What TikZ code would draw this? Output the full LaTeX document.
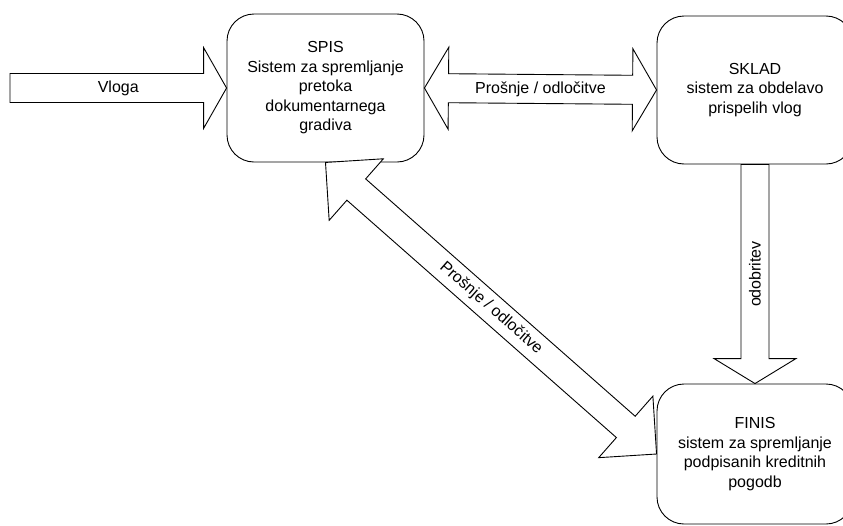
\documentclass[tikz,border=0pt]{standalone}
\usepackage{fontspec}
\setmainfont{Liberation Sans}
\usetikzlibrary{calc}

% Block arrow with one head: #1 name, #2 tail, #3 tip,
% #4 shaft half width, #5 head half width, #6 head length
\newcommand\onewayarrow[6]{%
  \coordinate (#1-b) at ($(#3)!#6!(#2)$);
  \draw[blockarrow]
    ($(#2)!#4!90:(#3)$) -- ($(#1-b)!#4!-90:(#2)$) -- ($(#1-b)!#5!-90:(#2)$)
    -- (#3)
    -- ($(#1-b)!#5!90:(#2)$) -- ($(#1-b)!#4!90:(#2)$) -- ($(#2)!#4!-90:(#3)$)
    -- cycle;}

% Block arrow with heads at both ends: #1 name, #2 and #3 tips,
% #4 shaft half width, #5 head half width, #6 head length
\newcommand\twowayarrow[6]{%
  \coordinate (#1-a) at ($(#2)!#6!(#3)$);
  \coordinate (#1-b) at ($(#3)!#6!(#2)$);
  \draw[blockarrow]
    (#2) -- ($(#1-a)!#5!90:(#3)$) -- ($(#1-a)!#4!90:(#3)$)
    -- ($(#1-b)!#4!-90:(#2)$) -- ($(#1-b)!#5!-90:(#2)$)
    -- (#3)
    -- ($(#1-b)!#5!90:(#2)$) -- ($(#1-b)!#4!90:(#2)$)
    -- ($(#1-a)!#4!-90:(#3)$) -- ($(#1-a)!#5!-90:(#3)$)
    -- cycle;}

\tikzset{
  sysbox/.style={draw, line width=0.9pt, rounded corners=27pt, fill=white,
    align=center, inner sep=0pt, font=\fontsize{16}{19.5}\selectfont},
  blockarrow/.style={draw, line width=0.9pt, fill=white, line join=miter},
  lbl/.style={font=\fontsize{16}{19.5}\selectfont, inner sep=0pt}
}

\begin{document}
\begin{tikzpicture}[x=1pt, y={(0pt,-1pt)}]
  \useasboundingbox (0,0) rectangle (843,525);

  % systems
  \node[sysbox, minimum width=197pt, minimum height=148pt] (spis) at (325.5,88)
    {SPIS\\Sistem za spremljanje\\pretoka\\dokumentarnega\\gradiva};
  \node[sysbox, minimum width=196pt, minimum height=148pt] (sklad) at (755,90)
    {SKLAD\\sistem za obdelavo\\prispelih vlog};
  \node[sysbox, minimum width=196pt, minimum height=140pt] (finis) at (755,454)
    {FINIS\\sistem za spremljanje\\podpisanih kreditnih\\pogodb};

  % incoming request
  \coordinate (vloga-in) at (10,88);
  \onewayarrow{vl}{vloga-in}{spis.west}{14.5pt}{40.5pt}{23pt}
  \path (vloga-in) -- (spis.west) node[lbl, midway] (vlogalbl) {Vloga};

  % SPIS <-> SKLAD
  \twowayarrow{ps}{spis.east}{sklad.west}{14.5pt}{41pt}{24pt}
  \path (spis.east) -- (sklad.west) node[lbl, midway] (pslbl) {Prošnje / odločitve};

  % SKLAD -> FINIS
  \onewayarrow{od}{sklad.south}{finis.north}{14pt}{41pt}{25pt}
  \path (sklad.south) -- (finis.north) node[lbl, midway, rotate=90] (odlbl) {odobritev};

  % SPIS <-> FINIS
  \twowayarrow{pf}{spis.south}{finis.west}{14.2pt}{41pt}{41pt}
  \path (spis.south) -- (finis.west) node[lbl, midway, sloped] (pflbl) {Prošnje / odločitve};
\end{tikzpicture}
\end{document}
